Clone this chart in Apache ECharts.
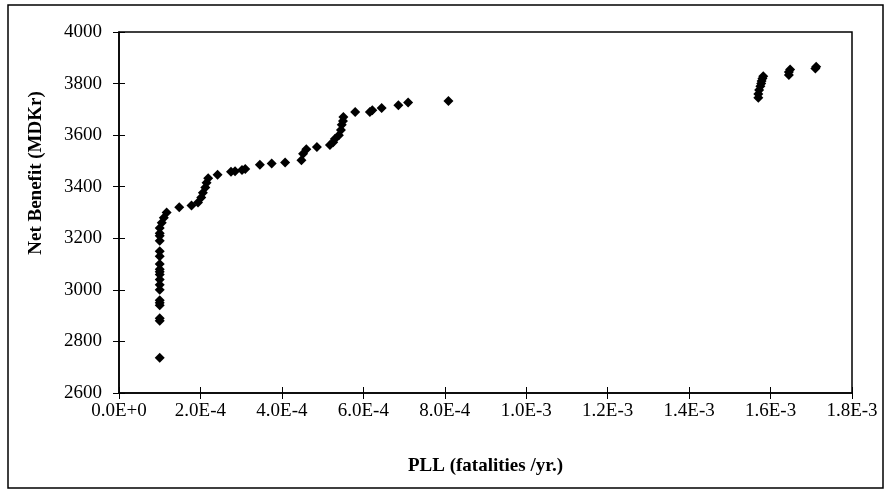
<!DOCTYPE html>
<html>
<head>
<meta charset="utf-8">
<script src="https://cdn.jsdelivr.net/npm/echarts@6/dist/echarts.min.js"></script>
<style>
  html, body { margin: 0; padding: 0; background: #fff; }
  #chart { width: 889px; height: 495px; }
</style>
</head>
<body>
<div id="chart"></div>
<script>
// PLL (fatalities/yr) and net benefit (MDKr)
var pll = [
  1.0e-4, 1.0e-4, 1.0e-4, 1.0e-4, 1.0e-4, 1.0e-4, 1.0e-4, 1.0e-4, 1.0e-4, 1.0e-4,
  1.0e-4, 1.0e-4, 1.0e-4, 1.0e-4, 1.0e-4, 1.0e-4, 1.0e-4, 1.0e-4, 1.0e-4,
  1.05e-4, 1.1e-4, 1.17e-4,
  1.48e-4, 1.78e-4, 1.94e-4, 2.02e-4, 2.06e-4, 2.12e-4, 2.15e-4, 2.19e-4, 2.42e-4,
  2.75e-4, 2.85e-4, 3.02e-4, 3.10e-4, 3.46e-4, 3.75e-4, 4.08e-4, 4.48e-4, 4.52e-4,
  4.60e-4, 4.86e-4, 5.18e-4, 5.26e-4, 5.30e-4, 5.40e-4, 5.45e-4, 5.47e-4, 5.50e-4,
  5.51e-4, 5.80e-4, 6.16e-4, 6.22e-4, 6.45e-4, 6.86e-4, 7.10e-4, 8.09e-4,
  1.570e-3, 1.570e-3, 1.572e-3, 1.575e-3, 1.577e-3, 1.578e-3, 1.580e-3, 1.582e-3,
  1.645e-3, 1.645e-3, 1.648e-3, 1.710e-3, 1.712e-3
];
var netBenefit = [
  2737, 2880, 2890, 2940, 2950, 2960, 3000, 3020, 3040, 3060,
  3070, 3080, 3100, 3130, 3150, 3190, 3210, 3220, 3240,
  3260, 3280, 3300,
  3320, 3327, 3339, 3358, 3377, 3397, 3415, 3433, 3446,
  3458, 3460, 3465, 3469, 3485, 3490, 3494, 3503, 3528,
  3545, 3554, 3562, 3572, 3585, 3600, 3620, 3640, 3655,
  3670, 3690, 3690, 3697, 3705, 3716, 3727, 3732,
  3745, 3760, 3775, 3790, 3800, 3810, 3820, 3828,
  3833, 3845, 3855, 3858, 3865
];
var xTicks = ['0.0E+0', '2.0E-4', '4.0E-4', '6.0E-4', '8.0E-4', '1.0E-3', '1.2E-3', '1.4E-3', '1.6E-3', '1.8E-3'];

var points = [];
for (var i = 0; i < pll.length; i++) {
  points.push([pll[i], netBenefit[i]]);
}

var font = 'Liberation Serif';
var chart = echarts.init(document.getElementById('chart'), null, {renderer: 'canvas'});

var option = {
  backgroundColor: '#fff',
  animation: false,
  graphic: [{
    type: 'rect',
    shape: {x: 8, y: 5, width: 875, height: 483},
    style: {fill: 'none', stroke: '#000', lineWidth: 1.5},
    silent: true
  }, {
    // y axis title sits a bit above the plot centre in the original
    type: 'text',
    x: 36, y: 173, rotation: Math.PI / 2,
    style: {
      text: 'Net Benefit (MDKr)', fontFamily: font, fontSize: 19, fontWeight: 'bold',
      fill: '#000', align: 'center', verticalAlign: 'middle'
    },
    silent: true
  }],
  grid: {
    left: 119, top: 32, right: 37, bottom: 102,
    show: true, borderColor: '#000', borderWidth: 1.5,
    backgroundColor: '#fff'
  },
  xAxis: [{
    type: 'value', min: 0, max: 0.0018, interval: 0.0002,
    name: 'PLL (fatalities /yr.)', nameLocation: 'middle', nameGap: 64,
    nameTextStyle: {fontFamily: font, fontSize: 19, fontWeight: 'bold', color: '#000'},
    axisLine: {show: true, lineStyle: {color: '#000', width: 1.5}},
    axisTick: {show: true, length: 6, lineStyle: {color: '#000'}},
    axisLabel: {
      fontFamily: font, fontSize: 19, color: '#000', margin: 9,
      formatter: function (v) { return xTicks[Math.round(v / 0.0002)]; }
    },
    splitLine: {show: false}
  }, {
    type: 'value', min: 0, max: 0.0018, interval: 0.0002, position: 'bottom',
    axisLine: {show: false},
    axisTick: {show: true, inside: true, length: 6, lineStyle: {color: '#000'}},
    axisLabel: {show: false},
    splitLine: {show: false}
  }],
  yAxis: [{
    type: 'value', min: 2600, max: 4000, interval: 200,
    axisLine: {show: true, lineStyle: {color: '#000', width: 1.5}},
    axisTick: {show: true, length: 6, lineStyle: {color: '#000'}},
    axisLabel: {
      fontFamily: font, fontSize: 19, color: '#000', margin: 17,
      formatter: function (v) { return String(v); }
    },
    splitLine: {show: false}
  }, {
    type: 'value', min: 2600, max: 4000, interval: 200, position: 'left',
    axisLine: {show: false},
    axisTick: {show: true, inside: true, length: 6, lineStyle: {color: '#000'}},
    axisLabel: {show: false},
    splitLine: {show: false}
  }],
  series: [{
    type: 'scatter',
    data: points,
    symbol: 'diamond',
    symbolSize: [10, 10],
    itemStyle: {color: '#000', opacity: 1}
  }]
};
chart.setOption(option);
</script>
</body>
</html>
